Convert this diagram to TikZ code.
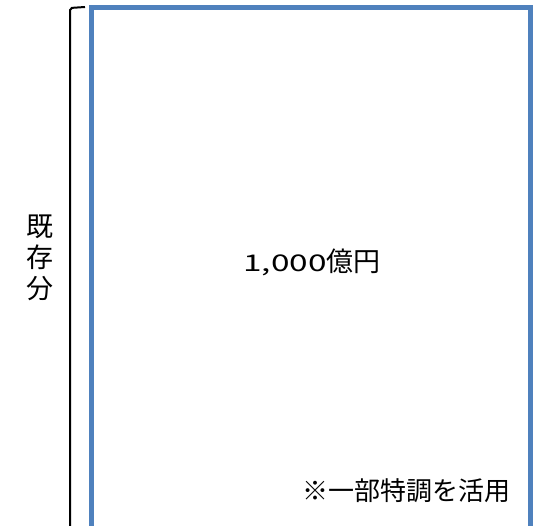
\documentclass[tikz,border=0pt]{standalone}
\usepackage{fontspec}
\setmainfont{Noto Sans CJK JP}
\newfontfamily\widedigits[FakeStretch=1.45]{Noto Sans CJK JP}
\definecolor{frameblue}{RGB}{79,129,189}
\begin{document}
\begin{tikzpicture}[x=1pt,y=-1pt]
      \useasboundingbox (0,0) rectangle (543,526);
      % brace on the left
      \draw[black, line width=2pt, rounded corners=2pt] (85,7) -- (70,8) -- (70,526);
      \node[align=center, font=\fontsize{27}{31}\selectfont] (kizon) at (40.5,258) {既\\存\\分};
      % open frame
      \draw[draw=frameblue, line width=5pt] (91.5,526) -- (91.5,8) -- (530,8) -- (530,526);
      \node[font=\fontsize{27}{30}\selectfont] (amount) at (312,262) {{\widedigits\fontsize{23}{30}\selectfont 1,000}億円};
      \node[font=\fontsize{26}{30}\selectfont] (note) at (406.5,491) {※一部特調を活用};
    \end{tikzpicture}
\end{document}
